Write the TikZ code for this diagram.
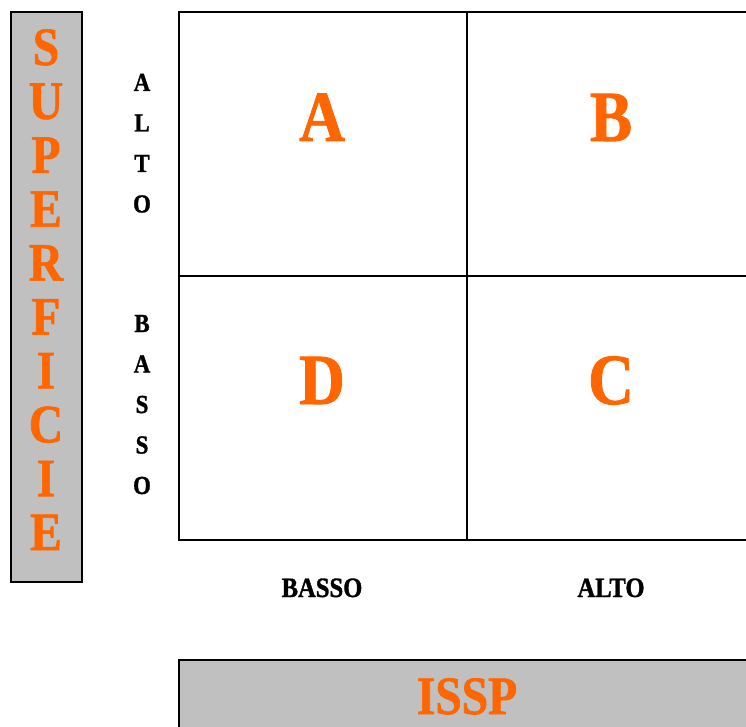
\documentclass[tikz,border=0pt]{standalone}
\usepackage{fontspec}
\setmainfont[FakeStretch=0.88,BoldFeatures={FakeBold=1.2}]{Liberation Serif}
\definecolor{orng}{HTML}{FF6600}
\definecolor{gry}{HTML}{C0C0C0}
\begin{document}
\begin{tikzpicture}[x=1pt,y=-1pt,
  frame/.style={draw=black,line width=1.3pt},
  big/.style={text=orng,font=\fontsize{72}{72}\selectfont\bfseries,anchor=base,inner sep=0pt},
  side/.style={text=orng,font=\fontsize{54}{54}\selectfont\bfseries,anchor=base,inner sep=0pt},
  axl/.style={text=black,font=\fontsize{26}{26}\selectfont\bfseries,anchor=base,inner sep=0pt},
  axh/.style={text=black,font=\fontsize{28}{28}\selectfont\bfseries,anchor=base,inner sep=0pt}]
\useasboundingbox (0,0) rectangle (746,727);
\begin{scope}
\clip (0,0) rectangle (746,727);
% grid
\draw[frame] (179,12) rectangle (760,540);
\draw[frame] (467,12) -- (467,540);
\draw[frame] (179,276) -- (760,276);
% side box
\draw[frame,fill=gry] (11,12) rectangle (82,582);
% bottom box
\draw[frame,fill=gry] (179,660) rectangle (760,740);
\end{scope}
% quadrant letters
\node[big] (qa) at (322,141) {A};
\node[big] (qb) at (611,141) {B};
\node[big] (qd) at (322,404) {D};
\node[big] (qc) at (611,404) {C};
% SUPERFICIE
\foreach \L [count=\i from 0] in {S,U,P,E,R,F,I,C,I,E}
  \node[side] (sup\i) at (46,65+53.9*\i) {\L};
% ALTO vertical
\foreach \L [count=\i from 0] in {A,L,T,O}
  \node[axl] (va\i) at (142,91+40.5*\i) {\L};
% BASSO vertical
\foreach \L [count=\i from 0] in {B,A,S,S,O}
  \node[axl] (vb\i) at (142,332+40.5*\i) {\L};
% horizontal axis labels
\node[axh] (hb) at (322,597) {BASSO};
\node[axh] (ha) at (611,597) {ALTO};
% ISSP
\node[side] (issp) at (467,714) {ISSP};
\end{tikzpicture}
\end{document}
